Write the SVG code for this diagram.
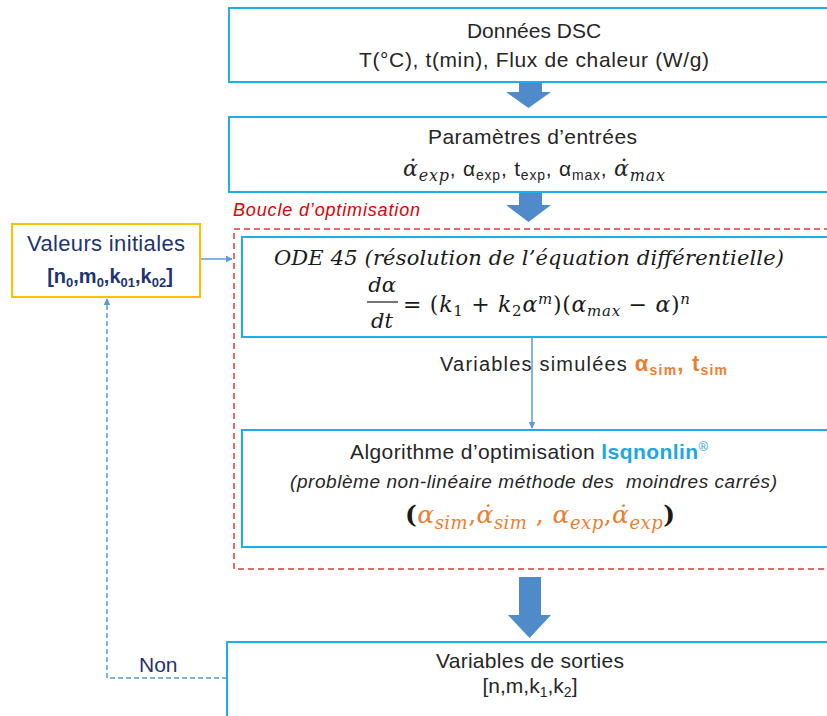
<svg xmlns="http://www.w3.org/2000/svg" width="827" height="716" viewBox="0 0 827 716">
<style>
.box{fill:#fff;stroke:#1AAFEC;stroke-width:2}
.t{font-family:"Liberation Sans",Arial,sans-serif;fill:#262626}
.m{font-family:"DejaVu Serif","Liberation Serif",serif;font-style:italic}
.s{font-family:"DejaVu Serif","Liberation Serif",serif}
.blk{fill:#4F8ACB}
.thin{stroke:#5B9BD5;stroke-width:1.5;fill:none}
.org{fill:#EE7D31}
.navy{fill:#1F3470}
</style>
<defs>
<marker id="ah" viewBox="0 0 10 10" refX="9" refY="5" markerWidth="7" markerHeight="7" markerUnits="userSpaceOnUse" orient="auto">
<path d="M0,0 L10,5 L0,10 z" fill="#5B9BD5"/>
</marker>
</defs>
<rect x="0" y="0" width="827" height="716" fill="#fff"/>

<g id="loop">
<rect x="234" y="229" width="600" height="340" fill="none" stroke="#E23A3A" stroke-width="1.5" stroke-dasharray="6,4"/>
<text x="233" y="216" class="t" font-size="18" font-style="italic" textLength="187" style="fill:#E00000">Boucle d’optimisation</text>
</g>

<g id="connectors">
<path class="blk" d="M519,83 H542 V92 H551 L528.5,108 L506,92 H519 Z"/>
<path class="blk" d="M519,193 H542 V205 H551 L528.5,222 L506,205 H519 Z"/>
<path class="blk" d="M519,577 H541 V615 H551 L529.5,638 L508,615 H519 Z"/>
<line class="thin" x1="532" y1="337" x2="532" y2="428" marker-end="url(#ah)"/>
<line class="thin" x1="200" y1="259" x2="232" y2="259" marker-end="url(#ah)"/>
<path class="thin" d="M227,678 H107 V299" stroke-dasharray="5,3" marker-end="url(#ah)"/>
<text x="139" y="672" class="t navy" font-size="21">Non</text>
</g>

<g id="donnees">
<rect class="box" x="229" y="8" width="610" height="74"/>
<text x="534" y="38" class="t" font-size="21" text-anchor="middle">Données DSC</text>
<text x="359" y="67" class="t" font-size="21" textLength="350">T(°C), t(min), Flux de chaleur (W/g)</text>
</g>

<g id="parametres">
<rect class="box" x="229" y="117" width="610" height="75"/>
<text x="428" y="144" class="t" font-size="21" textLength="209">Paramètres d’entrées</text>
<text x="403" y="176" class="t" font-size="21" textLength="262"><tspan class="m" font-size="22">α̇</tspan><tspan class="m" font-size="16" dy="5">exp</tspan><tspan dy="-5">, α</tspan><tspan font-size="14" dy="4">exp</tspan><tspan dy="-4">, t</tspan><tspan font-size="14" dy="4">exp</tspan><tspan dy="-4">, α</tspan><tspan font-size="14" dy="4">max</tspan><tspan dy="-4">, </tspan><tspan class="m" font-size="22">α̇</tspan><tspan class="m" font-size="16" dy="5">max</tspan></text>
</g>

<g id="valeurs">
<rect x="12" y="224" width="188" height="73" fill="#fff" stroke="#FFC000" stroke-width="2"/>
<text x="27" y="251" class="t navy" font-size="22" textLength="158">Valeurs initiales</text>
<text x="110" y="283" class="t navy" font-size="20" font-weight="bold" text-anchor="middle">[n<tspan font-size="13" dy="4">0</tspan><tspan dy="-4">,m</tspan><tspan font-size="13" dy="4">0</tspan><tspan dy="-4">,k</tspan><tspan font-size="13" dy="4">01</tspan><tspan dy="-4">,k</tspan><tspan font-size="13" dy="4">02</tspan><tspan dy="-4">]</tspan></text>
</g>

<g id="ode">
<rect class="box" x="242" y="237" width="600" height="100"/>
<text x="274" y="265" class="m" font-size="21" fill="#1a1a1a" textLength="510">ODE 45 (résolution de l’équation différentielle)</text>
<text x="382" y="292" class="m" font-size="21" fill="#1a1a1a" text-anchor="middle">dα</text>
<line x1="367" y1="302" x2="398" y2="302" stroke="#1a1a1a" stroke-width="1.2"/>
<text x="382" y="328" class="m" font-size="21" fill="#1a1a1a" text-anchor="middle">dt</text>
<text x="403" y="312" class="s" font-size="22" fill="#1a1a1a" textLength="287">= (<tspan font-style="italic">k</tspan><tspan font-size="15" dy="4">1</tspan><tspan dy="-4"> + </tspan><tspan font-style="italic">k</tspan><tspan font-size="15" dy="4">2</tspan><tspan dy="-4" font-style="italic">α</tspan><tspan font-size="15" font-style="italic" dy="-8">m</tspan><tspan dy="8">)(</tspan><tspan font-style="italic">α</tspan><tspan font-size="15" font-style="italic" dy="4">max</tspan><tspan dy="-4"> − </tspan><tspan font-style="italic">α</tspan><tspan>)</tspan><tspan font-size="15" font-style="italic" dy="-8">n</tspan></text>
</g>

<g id="simulees">
<text x="440" y="371" class="t" font-size="20" textLength="287">Variables simulées <tspan class="org" font-weight="bold" font-size="22">α</tspan><tspan class="org" font-weight="bold" font-size="14" dy="4">sim</tspan><tspan class="org" font-weight="bold" font-size="22" dy="-4">, t</tspan><tspan class="org" font-weight="bold" font-size="14" dy="4">sim</tspan></text>
</g>

<g id="algorithme">
<rect class="box" x="242" y="430" width="600" height="117"/>
<text x="350" y="459" class="t" font-size="21" textLength="358">Algorithme d’optimisation <tspan font-weight="bold" fill="#1EA7E0">lsqnonlin</tspan><tspan font-size="13" dy="-8" fill="#1EA7E0">®</tspan></text>
<text x="290" y="488" class="t" font-size="19" font-style="italic" textLength="487" style="white-space:pre">(problème non-linéaire méthode des  moindres carrés)</text>
<text x="405" y="523" class="s" font-size="25" font-weight="bold" fill="#1a1a1a" textLength="270">(<tspan class="org" font-style="italic" font-weight="normal">α</tspan><tspan class="org" font-style="italic" font-weight="normal" font-size="18" dy="6">sim</tspan><tspan class="org" dy="-6" font-weight="normal">,</tspan><tspan class="org" font-style="italic" font-weight="normal">α̇</tspan><tspan class="org" font-style="italic" font-weight="normal" font-size="18" dy="6">sim</tspan><tspan class="org" dy="-6" font-weight="normal"> , </tspan><tspan class="org" font-style="italic" font-weight="normal">α</tspan><tspan class="org" font-style="italic" font-weight="normal" font-size="18" dy="6">exp</tspan><tspan class="org" dy="-6" font-weight="normal">,</tspan><tspan class="org" font-style="italic" font-weight="normal">α̇</tspan><tspan class="org" font-style="italic" font-weight="normal" font-size="18" dy="6">exp</tspan><tspan dy="-6">)</tspan></text>
</g>

<g id="sorties">
<rect class="box" x="227" y="642" width="620" height="90"/>
<text x="436" y="668" class="t" font-size="21" textLength="188">Variables de sorties</text>
<text x="530" y="693" class="t" font-size="21" text-anchor="middle">[n,m,k<tspan font-size="14" dy="4">1</tspan><tspan dy="-4">,k</tspan><tspan font-size="14" dy="4">2</tspan><tspan dy="-4">]</tspan></text>
</g>
</svg>
